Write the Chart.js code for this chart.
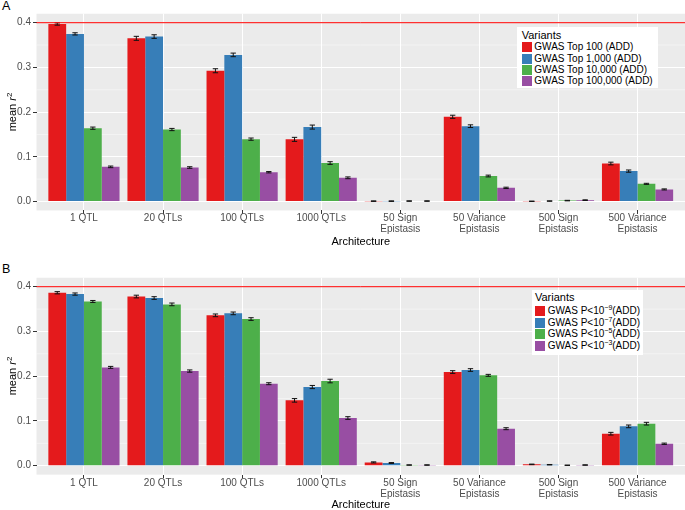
<!DOCTYPE html>
<html><head><meta charset="utf-8">
<script src="https://cdn.jsdelivr.net/npm/chart.js@4.4.1/dist/chart.umd.min.js"></script>
<style>
html,body{margin:0;padding:0;background:#fff;}
body{width:685px;height:510px;position:relative;overflow:hidden;font-family:"Liberation Sans",Arial,sans-serif;}
canvas{position:absolute;left:0;}
.plabel{position:absolute;font-size:12.5px;color:#000;line-height:12px;}
.ytitle{position:absolute;font-size:11px;line-height:11px;white-space:nowrap;color:#000;transform:translate(-50%,-50%) rotate(-90deg);}
.ytitle sup{font-size:8px;vertical-align:4px;line-height:0;}
.legend{position:absolute;background:#fff;}
.legend .lt{position:absolute;font-size:11px;line-height:11px;white-space:nowrap;color:#000;}
.legend .key{position:absolute;width:10px;height:10px;}
.legend .txt{position:absolute;font-size:10px;line-height:10px;white-space:nowrap;color:#000;}
.legend .txt sup{font-size:7px;vertical-align:4px;line-height:0;}
</style></head><body>
<div class="plabel" style="left:2px;top:0px">A</div>
<div class="plabel" style="left:2px;top:263px">B</div>
<canvas id="cA" width="685" height="250" style="top:0"></canvas>
<canvas id="cB" width="685" height="260" style="top:250px"></canvas>
<div class="ytitle" style="left:11.5px;top:112px">mean <i>r</i><sup>2</sup></div>
<div class="ytitle" style="left:11.5px;top:376px">mean <i>r</i><sup>2</sup></div>
<script>
// ---------------- DATA ----------------
const categories = ["1 QTL","20 QTLs","100 QTLs","1000 QTLs","50 Sign\nEpistasis","50 Variance\nEpistasis","500 Sign\nEpistasis","500 Variance\nEpistasis"];
const yTicks = [0, 0.1, 0.2, 0.3, 0.4];
const yMinorTicks = [0.05, 0.15, 0.25, 0.35];
const refLineValue = 0.4;
const xTitle = "Architecture";
const legendTitle = "Variants";
const seriesColors = ["#E41A1C","#377EB8","#4DAF4A","#984EA3"];

// Panel A
const labelsA = ["GWAS Top 100 (ADD)","GWAS Top 1,000 (ADD)","GWAS Top 10,000 (ADD)","GWAS Top 100,000 (ADD)"];
const top100     = [0.397, 0.365, 0.2925, 0.139, 0.0008, 0.1895, 0.0005, 0.085];
const top1000    = [0.375, 0.369, 0.328, 0.1665, 0.0008, 0.1685, 0.0010, 0.068];
const top10000   = [0.164, 0.161, 0.1395, 0.086, 0.0010, 0.057, 0.0020, 0.0395];
const top100000  = [0.0775, 0.076, 0.0655, 0.053, 0.0010, 0.0305, 0.0030, 0.027];
const errTop100    = [0.0025, 0.0045, 0.0045, 0.0045, 0.0006, 0.0035, 0.0004, 0.003];
const errTop1000   = [0.0025, 0.004, 0.004, 0.0045, 0.0006, 0.003, 0.0005, 0.0025];
const errTop10000  = [0.0025, 0.0025, 0.0025, 0.003, 0.0006, 0.002, 0.0006, 0.0012];
const errTop100000 = [0.0018, 0.0018, 0.0015, 0.002, 0.0006, 0.0015, 0.0008, 0.0012];

// Panel B
const labelsB = ["GWAS P<10⁻⁹(ADD)","GWAS P<10⁻⁷(ADD)","GWAS P<10⁻⁵(ADD)","GWAS P<10⁻³(ADD)"];
const exponentsB = ["−9","−7","−5","−3"];
const p1e9 = [0.3865, 0.378, 0.336, 0.146, 0.0074, 0.2093, 0.0030, 0.0715];
const p1e7 = [0.3835, 0.3747, 0.3404, 0.1758, 0.0060, 0.2138, 0.0022, 0.0879];
const p1e5 = [0.367, 0.3605, 0.3277, 0.1892, 0.0015, 0.2019, 0.0010, 0.0939];
const p1e3 = [0.2197, 0.2115, 0.1832, 0.1065, 0.0015, 0.0827, 0.0015, 0.049];
const errP1e9 = [0.0025, 0.003, 0.003, 0.004, 0.0012, 0.003, 0.0006, 0.003];
const errP1e7 = [0.0025, 0.003, 0.003, 0.0035, 0.001, 0.003, 0.0005, 0.003];
const errP1e5 = [0.0022, 0.003, 0.003, 0.004, 0.0005, 0.0022, 0.0004, 0.003];
const errP1e3 = [0.0022, 0.0025, 0.0022, 0.003, 0.0005, 0.0022, 0.0005, 0.0015];

// ---------------- CHART ----------------
const FONT = "'Liberation Sans', Arial, sans-serif";
Chart.defaults.font.family = FONT;

const panelPlugin = {
  id: 'panelDecor',
  beforeDraw(chart) {
    const {ctx, chartArea: a} = chart;
    ctx.save();
    ctx.fillStyle = '#EBEBEB';
    ctx.fillRect(a.left, a.top, a.right - a.left, a.bottom - a.top);
    ctx.restore();
  },
  beforeDatasetsDraw(chart) {
    const {ctx, chartArea: a, scales: {y}} = chart;
    ctx.save();
    ctx.strokeStyle = 'rgba(255,255,255,0.85)';
    ctx.lineWidth = 0.5;
    yMinorTicks.forEach(v => {
      const py = y.getPixelForValue(v);
      ctx.beginPath(); ctx.moveTo(a.left, py); ctx.lineTo(a.right, py); ctx.stroke();
    });
    ctx.restore();
  },
  afterDatasetsDraw(chart) {
    const {ctx, chartArea: a, scales: {y}} = chart;
    ctx.save();
    ctx.strokeStyle = '#111';
    ctx.lineWidth = 1;
    chart.data.datasets.forEach((ds, i) => {
      const meta = chart.getDatasetMeta(i);
      meta.data.forEach((bar, j) => {
        const v = ds.data[j].y, e = ds.errors[j];
        const x = bar.x, hw = bar.width * 0.15;
        const y1 = y.getPixelForValue(v + e), y2 = y.getPixelForValue(v - e);
        ctx.beginPath();
        ctx.moveTo(x, y1); ctx.lineTo(x, y2);
        ctx.moveTo(x - hw, y1); ctx.lineTo(x + hw, y1);
        ctx.moveTo(x - hw, y2); ctx.lineTo(x + hw, y2);
        ctx.stroke();
      });
    });
    const ry = y.getPixelForValue(refLineValue);
    ctx.strokeStyle = '#FF0000';
    ctx.lineWidth = 1;
    ctx.beginPath(); ctx.moveTo(a.left, ry); ctx.lineTo(a.right, ry); ctx.stroke();
    ctx.restore();
  }
};

function makeChart(id, labels, series, errors, geom) {
  const datasets = series.map((vals, i) => ({
    label: labels[i],
    data: vals.map((v, j) => ({x: j + 1, y: v})),
    errors: errors[i],
    backgroundColor: seriesColors[i],
    borderWidth: 0,
    categoryPercentage: 0.9,
    barPercentage: 1.0
  }));
  return new Chart(document.getElementById(id), {
    type: 'bar',
    data: {datasets},
    plugins: [panelPlugin],
    options: {
      responsive: false,
      animation: false,
      events: [],
      devicePixelRatio: 1,
      layout: {padding: {top: geom.padTop, left: 0, right: 0, bottom: 0}},
      plugins: {legend: {display: false}, tooltip: {enabled: false}, title: {display: false}},
      scales: {
        x: {
          type: 'linear',
          min: 0.4, max: categories.length + 0.6,
          offset: false,
          afterBuildTicks(s) { s.ticks = categories.map((c, i) => ({value: i + 1})); },
          afterFit(s) { s.height = geom.xHeight; },
          ticks: {
            autoSkip: false, maxRotation: 0, minRotation: 0,
            padding: geom.xTickPad,
            color: '#4D4D4D',
            font: {size: 10, lineHeight: 1.1},
            callback: (v) => { const c = categories[Math.round(v) - 1]; return c ? c.split('\n') : ''; }
          },
          grid: {offset: false, color: '#FFFFFF', lineWidth: 1, drawTicks: true, tickLength: 3.5, tickColor: '#333333', tickWidth: 1},
          border: {display: false},
          title: {display: true, text: xTitle, color: '#000', font: {size: 11, lineHeight: 1.2}, padding: {top: 0, bottom: geom.titlePad}}
        },
        y: {
          type: 'linear',
          min: -0.02, max: 0.42,
          afterBuildTicks(s) { s.ticks = yTicks.map(v => ({value: v})); },
          afterFit(s) { s.width = 36.5; },
          ticks: {
            padding: 2,
            color: '#4D4D4D',
            font: {size: 10},
            callback: (v) => Number(v).toFixed(1)
          },
          grid: {offset: false, color: '#FFFFFF', lineWidth: 1, drawTicks: true, tickLength: 3.5, tickColor: '#333333', tickWidth: 1},
          border: {display: false}
        }
      }
    }
  });
}

makeChart('cA', labelsA, [top100, top1000, top10000, top100000],
  [errTop100, errTop1000, errTop10000, errTop100000],
  {padTop: 13.76, xHeight: 39.56, xTickPad: -1.5, titlePad: 1.7});
makeChart('cB', labelsB, [p1e9, p1e7, p1e5, p1e3],
  [errP1e9, errP1e7, errP1e5, errP1e3],
  {padTop: 27.75, xHeight: 35.35, xTickPad: -0.8, titlePad: -1.6});

// ---------------- LEGENDS (HTML overlays) ----------------
function makeLegend(g, buildText) {
  const d = document.createElement('div');
  d.className = 'legend';
  Object.assign(d.style, {left: g.left + 'px', top: g.top + 'px', width: g.width + 'px', height: g.height + 'px'});
  const t = document.createElement('div');
  t.className = 'lt'; t.textContent = legendTitle;
  t.style.left = g.pad + 'px'; t.style.top = (g.titleY - 5.4) + 'px';
  d.appendChild(t);
  for (let i = 0; i < seriesColors.length; i++) {
    const cy = g.row0 + i * g.rowH;
    const k = document.createElement('div');
    k.className = 'key'; k.style.background = seriesColors[i];
    k.style.left = g.pad + 'px'; k.style.top = (cy - 5) + 'px';
    const tx = document.createElement('div');
    tx.className = 'txt';
    buildText(tx, i);
    tx.style.left = g.textX + 'px'; tx.style.top = (cy - 5) + 'px';
    d.appendChild(k); d.appendChild(tx);
  }
  document.body.appendChild(d);
}
makeLegend({left: 517.3, top: 27.3, width: 140.4, height: 60.4, pad: 4.4, titleY: 7.7, row0: 20, rowH: 11.3, textX: 17},
  (el, i) => { el.textContent = labelsA[i]; });
makeLegend({left: 531.7, top: 290, width: 111.6, height: 65, pad: 3.3, titleY: 7.3, row0: 21, rowH: 11.5, textX: 16},
  (el, i) => {
    el.append('GWAS P<10');
    const s = document.createElement('sup'); s.textContent = exponentsB[i]; el.append(s);
    el.append('(ADD)');
  });
</script>
</body></html>
